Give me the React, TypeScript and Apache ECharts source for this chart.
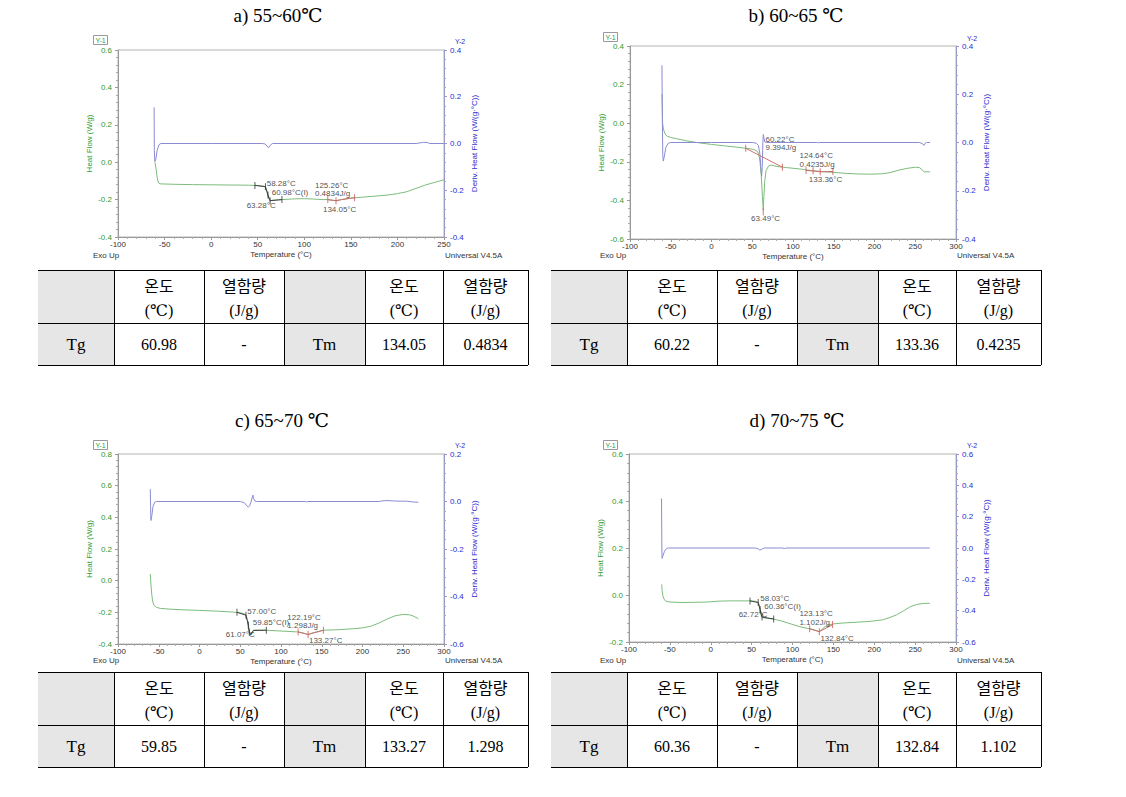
import React, { useEffect, useRef } from 'react';
import * as echarts from 'echarts';

// ---------- DATA ----------
const panelTitles = ['a) 55~60℃', 'b) 60~65 ℃', 'c) 65~70 ℃', 'd) 70~75 ℃'];
const xMaxValues = [250, 300, 300, 300];
const xTickStep = 50;
const y1Ranges = [[-0.4, 0.6], [-0.6, 0.4], [-0.4, 0.8], [-0.2, 0.6]];
const y2Ranges = [[-0.4, 0.4], [-0.4, 0.4], [-0.6, 0.2], [-0.6, 0.6]];
const yTickStep = 0.2;

const heatFlowA = [
  [-60.3, 0.0], [-59, -0.04], [-58, -0.08], [-57, -0.105], [-56, -0.113], [-54, -0.116], [-40, -0.118],
  [-20, -0.12], [0, -0.121], [20, -0.122], [40, -0.123], [50, -0.125], [56, -0.128], [58.3, -0.132],
  [60, -0.16], [61, -0.18], [62.5, -0.2], [63.3, -0.207], [66, -0.203], [76, -0.2], [90, -0.196],
  [100, -0.195], [110, -0.197], [120, -0.2], [125, -0.2], [130, -0.203], [134, -0.206], [140, -0.2],
  [150, -0.192], [160, -0.188], [175, -0.182], [190, -0.175], [200, -0.168], [210, -0.158],
  [220, -0.14], [230, -0.122], [240, -0.108], [250, -0.094],
];
const derivA = [
  [-61.2, 0.155], [-61, -0.03], [-60.5, -0.077], [-59.5, -0.07], [-58, -0.03], [-56, -0.005], [-54, 0],
  [0, 0], [55, 0], [58, -0.002], [61, -0.016], [62, -0.017], [64, -0.005], [66, 0], [220, 0],
  [228, 0.005], [232, 0.004], [235, 0], [250, 0],
];
const heatFlowB = [
  [-60.8, 0.15], [-60.5, 0.1], [-60, 0.0], [-59, -0.03], [-57, -0.055], [-55, -0.066], [-50, -0.074],
  [-43, -0.08], [-30, -0.092], [-15, -0.102], [0, -0.11], [15, -0.117], [30, -0.124], [45, -0.131],
  [52, -0.136], [56, -0.145], [58, -0.16], [59.5, -0.2], [61, -0.27], [62.5, -0.38], [63.5, -0.45],
  [64.3, -0.38], [65.3, -0.3], [67, -0.245], [70, -0.222], [73, -0.217], [80, -0.224], [92, -0.23],
  [110, -0.238], [125, -0.247], [137, -0.251], [150, -0.255], [165, -0.26], [180, -0.263],
  [195, -0.264], [210, -0.262], [220, -0.255], [230, -0.243], [240, -0.234], [250, -0.228],
  [255, -0.23], [258, -0.24], [261, -0.252], [268, -0.252],
];
const derivB = [
  [-60.8, 0.32], [-60.3, 0.1], [-59.8, -0.05], [-59.2, -0.077], [-58, -0.06], [-56, -0.02], [-53, -0.003],
  [-50, 0], [0, 0], [50, 0], [55, -0.003], [57.5, -0.012], [59.5, -0.05], [60.5, -0.1], [61.5, -0.14],
  [62.3, -0.1], [63, 0.0], [63.6, 0.033], [64.2, 0.02], [65.5, 0.002], [67.5, 0], [130, 0],
  [131, -0.002], [132, 0], [255, 0], [259, -0.005], [260.5, -0.012], [262, -0.004], [264, 0], [268, 0],
];
const heatFlowC = [
  [-60.4, 0.042], [-59.5, -0.03], [-58.5, -0.09], [-57.5, -0.13], [-56, -0.155], [-53, -0.168],
  [-48, -0.175], [-36, -0.18], [-20, -0.184], [0, -0.188], [20, -0.192], [40, -0.198], [50, -0.203],
  [55, -0.21], [57, -0.218], [58.5, -0.24], [59.9, -0.28], [61, -0.32], [62, -0.338], [64, -0.34],
  [65, -0.325], [66.5, -0.312], [75, -0.312], [82, -0.313], [100, -0.318], [121, -0.324], [127, -0.33],
  [133, -0.34], [140, -0.328], [152, -0.313], [170, -0.31], [190, -0.303], [200, -0.298],
  [210, -0.288], [220, -0.268], [230, -0.243], [240, -0.222], [250, -0.213], [258, -0.216],
  [263, -0.225], [268.5, -0.24],
];
const derivC = [
  [-60.4, 0.052], [-60, -0.02], [-59.6, -0.08], [-58.5, -0.06], [-57, -0.02], [-55, -0.003], [-53, 0],
  [50, 0], [55, -0.005], [58, -0.018], [60, -0.024], [61.5, -0.018], [63, -0.005], [64.5, 0.015],
  [65.5, 0.027], [66.5, 0.012], [68, 0.002], [70, 0], [130, 0], [131, -0.002], [133, 0], [220, 0],
  [225, 0.003], [230, 0.004], [240, 0.002], [255, 0.001], [262, -0.002], [268.5, -0.003],
];
const heatFlowD = [
  [-60, 0.045], [-59.5, 0.02], [-58.5, -0.005], [-57, -0.018], [-55, -0.026], [-50, -0.03],
  [-35, -0.032], [-20, -0.031], [-5, -0.03], [10, -0.026], [25, -0.025], [47.8, -0.025], [55, -0.027],
  [58, -0.032], [59.5, -0.045], [60.4, -0.062], [61.5, -0.085], [62.7, -0.094], [65, -0.097],
  [76, -0.102], [86, -0.11], [97, -0.122], [108, -0.134], [118, -0.142], [123, -0.145], [128, -0.15],
  [132.8, -0.156], [136, -0.146], [141.6, -0.13], [150, -0.123], [162, -0.119], [178, -0.116],
  [195, -0.112], [210, -0.106], [218, -0.097], [227, -0.085], [236, -0.067], [244, -0.05],
  [252, -0.04], [260, -0.036], [268, -0.035],
];
const derivD = [
  [-60.2, 0.316], [-59.8, 0.0], [-59.5, -0.066], [-58.5, -0.05], [-56.5, -0.02], [-54, -0.003],
  [-52, 0], [55, 0], [58, -0.005], [60, -0.013], [62, -0.01], [64, -0.002], [66, 0], [88, 0],
  [90, -0.004], [92, 0], [268, 0],
];

// analysis overlays (Tg step, Tm peak) and markers
const tgLineA = [[47, -0.124], [58.3, -0.131], [61, -0.175], [63.3, -0.206], [76, -0.2]];
const tmLineA = [[125, -0.2], [134, -0.206], [140, -0.2], [154, -0.19]];
const tgMarksA = [[47, -0.124], [58.28, -0.131], [60.98, -0.175], [63.28, -0.206], [76, -0.2]];
const tmMarksA = [[125.26, -0.2], [134.05, -0.206], [154, -0.19]];

const tgLineB = [[42, -0.13], [87, -0.228]];
const tmLineB = [[116, -0.245], [124.64, -0.247], [133.36, -0.252], [149, -0.25]];
const tgMarksB = [[42, -0.13], [87, -0.228], [63.49, -0.46]];
const tmMarksB = [[116, -0.245], [124.64, -0.247], [133.36, -0.252], [149, -0.25]];

const tgLineC = [[46, -0.2], [57, -0.218], [59.85, -0.28], [61.07, -0.325], [63, -0.34], [66, -0.315], [82, -0.313]];
const tmLineC = [[121, -0.324], [133.27, -0.34], [152, -0.313]];
const tgMarksC = [[46, -0.2], [57, -0.218], [59.85, -0.28], [61.07, -0.325], [82, -0.313]];
const tmMarksC = [[121, -0.324], [133.27, -0.34], [152, -0.313]];

const tgLineD = [[48, -0.025], [58.03, -0.032], [60.36, -0.062], [62.72, -0.094], [77, -0.102]];
const tmLineD = [[121, -0.144], [132.84, -0.156], [149, -0.126]];
const tgMarksD = [[48, -0.025], [58.03, -0.032], [60.36, -0.062], [62.72, -0.094], [77, -0.102]];
const tmMarksD = [[121, -0.144], [132.84, -0.156], [149, -0.126]];

// annotation texts: [text, x, y(left axis)]
const labelsA: [string, number, number][] = [
  ['58.28°C', 59.1, -0.115], ['60.98°C(I)', 64.5, -0.16], ['63.28°C', 37.6, -0.231],
  ['125.26°C', 110.9, -0.122], ['0.4834J/g', 110.9, -0.167], ['134.05°C', 119.5, -0.251],
];
const labelsB: [string, number, number][] = [
  ['60.22°C', 65.6, -0.082], ['9.394J/g', 65.6, -0.125], ['124.64°C', 107.4, -0.168],
  ['0.4235J/g', 107.4, -0.213], ['133.36°C', 118.8, -0.294], ['63.49°C', 48, -0.493],
];
const labelsC: [string, number, number][] = [
  ['57.00°C', 58.1, -0.197], ['59.85°C(I)', 64.7, -0.267], ['61.07°C', 31.6, -0.339],
  ['122.19°C', 107.2, -0.233], ['1.298J/g', 107.2, -0.282], ['133.27°C', 133.7, -0.377],
];
const labelsD: [string, number, number][] = [
  ['58.03°C', 60, -0.013], ['60.36°C(I)', 64.9, -0.049], ['62.72°C', 33.5, -0.081],
  ['123.13°C', 107.8, -0.08], ['1.102J/g', 107.8, -0.115], ['132.84°C', 133.5, -0.186],
];

// tables
const rowLabels = ['Tg', 'Tm'];
const headerTemp = ['온도', '(℃)'];
const headerEnth = ['열함량', '(J/g)'];
const tgTemps = ['60.98', '60.22', '59.85', '60.36'];
const tgEnthalpies = ['-', '-', '-', '-'];
const tmTemps = ['134.05', '133.36', '133.27', '132.84'];
const tmEnthalpies = ['0.4834', '0.4235', '1.298', '1.102'];

// ---------- STYLE / LAYOUT ----------
const GREEN = '#7cbc7c';
const BLUE = '#8b8bd2';
const AX_GREEN = '#2f9a2f';
const AX_BLUE = '#2b2bd0';
const FONT = "'Liberation Sans', Arial, sans-serif";
const SERIF = "'Liberation Serif', 'DejaVu Serif', 'Noto Sans CJK KR', serif";
const SMALL = 8;

const panels = [
  { left: 118, top: 50, width: 326, height: 187, cx: 278, ty: 15, exoX: 93, uniX: 445, botY: 255, y1x: 93, y1y: 40, y2x: 455, y2y: 41 },
  { left: 630, top: 46, width: 326, height: 193, cx: 796, ty: 15, exoX: 600, uniX: 957, botY: 255, y1x: 603, y1y: 37, y2x: 967, y2y: 38 },
  { left: 118, top: 454, width: 326, height: 190, cx: 282, ty: 420, exoX: 93, uniX: 445, botY: 660, y1x: 93, y1y: 445, y2x: 455, y2y: 445 },
  { left: 629, top: 454, width: 327, height: 188, cx: 797, ty: 420, exoX: 600, uniX: 957, botY: 660, y1x: 603, y1y: 445, y2x: 967, y2y: 445 },
];
const tablePos = [[38, 270], [551, 270], [38, 672], [551, 672]];
const colEdges = [0, 76, 166, 246, 327, 405, 490];
const headH = 53;
const rowH = 42;

const heatSets = [heatFlowA, heatFlowB, heatFlowC, heatFlowD];
const derivSets = [derivA, derivB, derivC, derivD];
const tgLines = [tgLineA, tgLineB, tgLineC, tgLineD];
const tmLines = [tmLineA, tmLineB, tmLineC, tmLineD];
const tgMarks = [tgMarksA, tgMarksB, tgMarksC, tgMarksD];
const tmMarks = [tmMarksA, tmMarksB, tmMarksC, tmMarksD];
const labelSets = [labelsA, labelsB, labelsC, labelsD];

const fmt1 = (v: number) => (Math.abs(v) < 1e-9 ? '0.0' : v.toFixed(1));

function buildOption() {
  const grid: any[] = [];
  const xAxis: any[] = [];
  const yAxis: any[] = [];
  const series: any[] = [];
  const graphic: any[] = [];

  panels.forEach((p, i) => {
    grid.push({ left: p.left, top: p.top, width: p.width, height: p.height, show: true, borderColor: '#b4b4b4', borderWidth: 1 });
    xAxis.push({
      type: 'value', gridIndex: i, min: -100, max: xMaxValues[i], interval: xTickStep,
      name: 'Temperature (°C)', nameLocation: 'middle', nameGap: 13,
      nameTextStyle: { fontSize: SMALL, color: '#333', fontFamily: FONT },
      axisLine: { onZero: false, lineStyle: { color: '#999' } },
      axisTick: { length: 3, lineStyle: { color: '#999' } },
      minorTick: { show: true, splitNumber: 5, length: 2, lineStyle: { color: '#aaa' } },
      axisLabel: { fontSize: SMALL, color: '#333', margin: 3, fontFamily: FONT },
      splitLine: { show: false },
    });
    yAxis.push({
      type: 'value', gridIndex: i, position: 'left', min: y1Ranges[i][0], max: y1Ranges[i][1], interval: yTickStep,
      name: 'Heat Flow (W/g)', nameLocation: 'middle', nameRotate: 90, nameGap: 25,
      nameTextStyle: { fontSize: SMALL, color: AX_GREEN, fontFamily: FONT },
      axisLine: { show: true, onZero: false, lineStyle: { color: '#999' } },
      axisTick: { show: true, length: 3, lineStyle: { color: '#999' } },
      minorTick: { show: true, splitNumber: 5, length: 2, lineStyle: { color: '#aaa' } },
      axisLabel: { fontSize: SMALL, color: AX_GREEN, margin: 6, fontFamily: FONT, formatter: fmt1 },
      splitLine: { show: false },
    });
    yAxis.push({
      type: 'value', gridIndex: i, position: 'right', min: y2Ranges[i][0], max: y2Ranges[i][1], interval: yTickStep,
      name: 'Deriv. Heat Flow (W/(g·°C))', nameLocation: 'middle', nameRotate: 90, nameGap: 26,
      nameTextStyle: { fontSize: SMALL, color: AX_BLUE, fontFamily: FONT },
      axisLine: { show: true, onZero: false, lineStyle: { color: '#9a9ac8' } },
      axisTick: { show: true, length: 3, lineStyle: { color: '#9a9ac8' } },
      minorTick: { show: true, splitNumber: 5, length: 2, lineStyle: { color: '#aaa' } },
      axisLabel: { fontSize: SMALL, color: AX_BLUE, margin: 6, fontFamily: FONT, formatter: fmt1 },
      splitLine: { show: false },
    });

    const base = { xAxisIndex: i, silent: true };
    series.push({ ...base, type: 'line', yAxisIndex: 2 * i, data: heatSets[i], symbol: 'none', lineStyle: { color: GREEN, width: 1 }, z: 2 });
    series.push({ ...base, type: 'line', yAxisIndex: 2 * i + 1, data: derivSets[i], symbol: 'none', lineStyle: { color: BLUE, width: 1 }, z: 2 });
    series.push({ ...base, type: 'line', yAxisIndex: 2 * i, data: tgLines[i], symbol: 'none', lineStyle: { color: i === 1 ? '#d07070' : '#444', width: 1 }, z: 3 });
    series.push({ ...base, type: 'line', yAxisIndex: 2 * i, data: tmLines[i], symbol: 'none', lineStyle: { color: '#cc6f6f', width: 1 }, z: 3 });
    series.push({ ...base, type: 'scatter', yAxisIndex: 2 * i, data: tgMarks[i], symbol: 'rect', symbolSize: [1, 7], itemStyle: { color: i === 1 ? '#cc5555' : '#333' }, z: 4 });
    series.push({ ...base, type: 'scatter', yAxisIndex: 2 * i, data: tmMarks[i], symbol: 'rect', symbolSize: [1, 7], itemStyle: { color: '#cc5555' }, z: 4 });
    series.push({
      ...base, type: 'scatter', yAxisIndex: 2 * i,
      data: labelSets[i].map(([t, x, y]) => ({ name: t, value: [x, y] })),
      symbolSize: 1, itemStyle: { color: 'rgba(0,0,0,0)' },
      label: { show: true, position: 'right', distance: 0, formatter: '{b}', fontSize: SMALL, color: '#222', fontFamily: FONT },
      z: 5,
    });

    // title & instrument texts
    graphic.push({ type: 'text', x: p.cx, y: p.ty, style: { text: panelTitles[i], align: 'center', verticalAlign: 'middle', fontSize: 19, fontFamily: SERIF, fill: '#000' } });
    graphic.push({ type: 'text', x: p.exoX, y: p.botY, style: { text: 'Exo Up', align: 'left', verticalAlign: 'middle', fontSize: SMALL, fontFamily: FONT, fill: '#333' } });
    graphic.push({ type: 'text', x: p.uniX, y: p.botY, style: { text: 'Universal V4.5A', align: 'left', verticalAlign: 'middle', fontSize: SMALL, fontFamily: FONT, fill: '#333' } });
    graphic.push({ type: 'rect', shape: { x: p.y1x + 0.5, y: p.y1y - 4.5, width: 14, height: 9 }, style: { fill: '#fff', stroke: '#999', lineWidth: 1 } });
    graphic.push({ type: 'text', x: p.y1x + 7.5, y: p.y1y, style: { text: 'Y-1', align: 'center', verticalAlign: 'middle', fontSize: 7, fontFamily: FONT, fill: AX_GREEN } });
    graphic.push({ type: 'text', x: p.y2x, y: p.y2y, style: { text: 'Y-2', align: 'left', verticalAlign: 'middle', fontSize: 7, fontFamily: FONT, fill: AX_BLUE } });

    // table
    const [tx, ty] = tablePos[i];
    const W = colEdges[colEdges.length - 1];
    const H = headH + rowH;
    [0, 3].forEach((c) => {
      graphic.push({ type: 'rect', shape: { x: tx + colEdges[c], y: ty, width: colEdges[c + 1] - colEdges[c], height: H }, style: { fill: '#e6e6e6' } });
    });
    [ty, ty + headH, ty + H].forEach((yy) => {
      graphic.push({ type: 'line', shape: { x1: tx, y1: yy + 0.5, x2: tx + W, y2: yy + 0.5 }, style: { stroke: '#000', lineWidth: 1 } });
    });
    colEdges.slice(1).forEach((cx) => {
      graphic.push({ type: 'line', shape: { x1: tx + cx + 0.5, y1: ty, x2: tx + cx + 0.5, y2: ty + H }, style: { stroke: '#000', lineWidth: 1 } });
    });
    const mid = (c: number) => tx + (colEdges[c] + colEdges[c + 1]) / 2;
    const txt = (text: string, x: number, y: number, size = 16) =>
      graphic.push({ type: 'text', x, y, style: { text, align: 'center', verticalAlign: 'middle', fontSize: size, fontFamily: SERIF, fill: '#000' } });
    [1, 4].forEach((c) => { txt(headerTemp[0], mid(c), ty + 16, 16); txt(headerTemp[1], mid(c), ty + 40, 16); });
    [2, 5].forEach((c) => { txt(headerEnth[0], mid(c), ty + 16, 16); txt(headerEnth[1], mid(c), ty + 40, 16); });
    const ry = ty + headH + rowH / 2;
    txt(rowLabels[0], mid(0), ry, 17);
    txt(tgTemps[i], mid(1), ry, 16);
    txt(tgEnthalpies[i], mid(2), ry, 16);
    txt(rowLabels[1], mid(3), ry, 17);
    txt(tmTemps[i], mid(4), ry, 16);
    txt(tmEnthalpies[i], mid(5), ry, 16);
  });

  return { animation: false, backgroundColor: '#fff', grid, xAxis, yAxis, series, graphic };
}

export default function App() {
  const ref = useRef<HTMLDivElement>(null);
  useEffect(() => {
    const chart = echarts.init(ref.current!, undefined, { renderer: 'svg' });
    chart.setOption(buildOption());
    return () => chart.dispose();
  }, []);
  return (
    <div
      ref={ref}
      style={{ position: 'fixed', left: 0, top: 0, width: 1126, height: 797, background: '#fff' }}
    />
  );
}
